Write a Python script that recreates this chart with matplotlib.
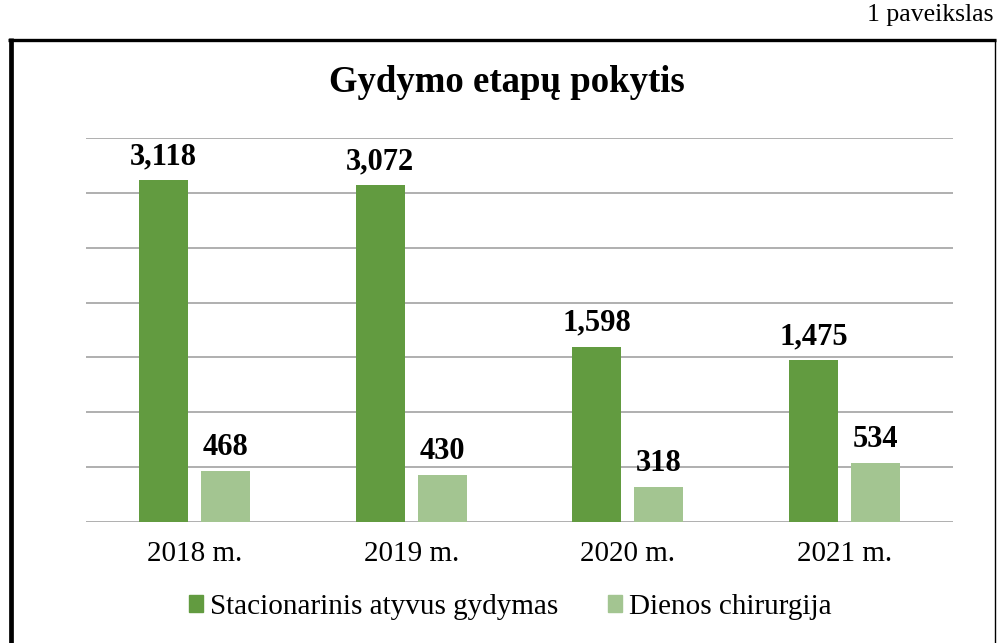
import matplotlib
matplotlib.use("Agg")
import matplotlib.pyplot as plt
from matplotlib.lines import Line2D
from matplotlib.patches import Patch
import numpy as np

categories = ["2018 m.", "2019 m.", "2020 m.", "2021 m."]
series_names = ["Stacionarinis atyvus gydymas", "Dienos chirurgija"]
stacionarinis = [3118, 3072, 1598, 1475]
dienos = [468, 430, 318, 534]
title = "Gydymo etapų pokytis"

plt.rcParams['font.family'] = ['Liberation Serif', 'DejaVu Serif']

W, H = 997, 643
fig = plt.figure(figsize=(W/100, H/100), dpi=100)

def fx(px): return px / W
def fy(py): return 1 - py / H

# frame box
fig.add_artist(Line2D([fx(10.5), fx(10.5)], [fy(38), 0], color='black', lw=3.4,
                      solid_capstyle='butt', transform=fig.transFigure))
fig.add_artist(Line2D([fx(8), fx(996)], [fy(39.8), fy(39.8)], color='black', lw=2.4,
                      solid_capstyle='butt', transform=fig.transFigure))
fig.add_artist(Line2D([fx(995), fx(995)], [fy(39), 0], color='black', lw=1.0,
                      solid_capstyle='butt', transform=fig.transFigure))

fig.text(fx(993), fy(15), "1 paveikslas", ha='right', va='center', fontsize=18.5)
fig.text(fx(507), fy(83), title, ha='center', va='center', fontsize=26.5, fontweight='bold')

ax = fig.add_axes([fx(86), fy(522), fx(953) - fx(86), fy(138) - fy(522)])
x = np.arange(len(categories))
bw = 0.226
off = 0.030
dark = '#629B40'
light = '#A3C591'
b1 = ax.bar(x - off - bw/2, stacionarinis, bw, color=dark, zorder=3)
b2 = ax.bar(x + off + bw/2, dienos, bw, color=light, zorder=3)

for bars, vals in ((b1, stacionarinis), (b2, dienos)):
    for r, v in zip(bars, vals):
        ax.annotate(f"{v:,}", (r.get_x() + r.get_width()/2, v), xytext=(0, 11.5),
                    textcoords='offset points', ha='center', va='baseline',
                    fontsize=22, fontweight='bold')

ax.set_xlim(-0.5, len(categories) - 0.5)
ax.set_ylim(0, 3500)
ax.set_yticks(np.arange(0, 3501, 500))
ax.set_yticklabels([])
ax.tick_params(axis='y', length=0)
ax.tick_params(axis='x', length=0, pad=14, labelsize=21)
ax.set_xticks(x)
ax.set_xticklabels(categories)
ax.grid(axis='y', color='#a9a9a9', lw=1.3, zorder=0)
for s in ax.spines.values():
    s.set_visible(False)

handles = [Patch(color=dark), Patch(color=light)]
fig.legend(handles, series_names, loc='center', bbox_to_anchor=(fx(510), fy(607)), ncol=2,
           frameon=False, fontsize=21, handlelength=0.5, handleheight=0.5,
           handletextpad=0.22, columnspacing=1.7)

fig.savefig("out.png", dpi=100)
